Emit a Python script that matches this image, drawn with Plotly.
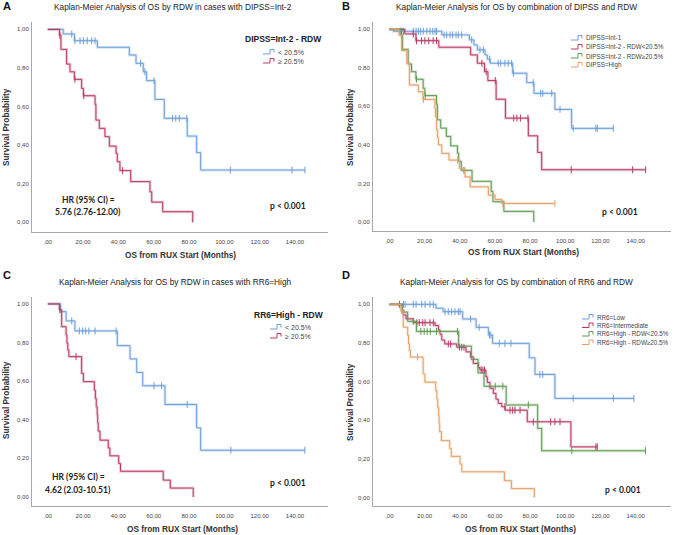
import plotly.graph_objects as go

# ---- survival data ----
# DIPSS=Int-2, RDW<20.5%  (panel A blue, panel B red)
int2_low_times = [8.8, 15.1, 28.1, 46.2, 50.0, 54.1, 56.0, 60.7, 66.0, 79.0, 84.3, 86.6]
int2_low_surv = [0.976, 0.941, 0.907, 0.867, 0.824, 0.780, 0.734, 0.637, 0.539, 0.447, 0.361, 0.271]
int2_low_cens = [13.6, 15.4, 18.3, 20.2, 22.4, 24.9, 26.8, 52.6, 55.0, 60.2, 70.7, 72.5, 74.5, 78.8,
                 103.4, 138.3, 145.7]

# DIPSS=Int-2, RDW>=20.5%  (panel A red, panel B green)
int2_high_times = [6.6, 7.5, 10.7, 12.6, 15.1, 19.2, 20.2, 26.8, 27.3, 29.2, 32.4, 34.9, 38.7, 39.4,
                   40.9, 47.0, 57.9, 58.9, 65.1, 82.1]
int2_high_surv = [0.970, 0.896, 0.820, 0.780, 0.741, 0.694, 0.656, 0.611, 0.530, 0.487, 0.444, 0.395,
                  0.357, 0.314, 0.268, 0.211, 0.158, 0.105, 0.055, 0.0]
int2_high_cens = [6.9, 15.4, 20.4, 42.4]

# DIPSS=Int-1 (panel B blue)
int1_times = [2.3, 29.8, 45.5, 48.1, 50.0, 54.4, 55.7, 57.3, 70.1, 78.1, 82.2, 94.1, 103.6]
int1_surv = [0.99, 0.971, 0.945, 0.919, 0.893, 0.867, 0.845, 0.824, 0.772, 0.723, 0.668, 0.584, 0.486]
int1_cens = [6.1, 7.0, 8.0, 13.6, 15.2, 16.5, 17.8, 19.3, 21.3, 23.1, 24.7, 26.0, 26.9, 31.1, 32.6,
             34.5, 36.0, 37.9, 39.2, 41.1, 46.8, 51.5, 53.4, 57.0, 61.9, 63.3, 65.7, 67.6, 69.5,
             70.5, 81.8, 86.0, 87.2, 92.3, 97.0, 104.5, 117.4, 118.2, 127.3]

# DIPSS=High (panel B orange)
high_times = [5.5, 7.0, 9.9, 11.4, 16.5, 19.1, 25.9, 26.3, 26.9, 27.4, 27.9, 29.8, 33.9, 39.8, 43.0,
              45.9, 56.3, 60.1, 63.9]
high_surv = [0.97, 0.889, 0.824, 0.711, 0.676, 0.636, 0.59, 0.545, 0.477, 0.44, 0.40, 0.356, 0.321,
             0.278, 0.234, 0.182, 0.139, 0.117, 0.096]
high_cens = [19.4, 38.9, 64.5, 94.1]

# RR6=High, RDW<20.5%  (panel C blue, panel D green)
rr6h_low_times = [7.3, 10.4, 15.4, 39.4, 46.6, 50.4, 53.8, 66.4, 84.3, 86.6]
rr6h_low_surv = [0.96, 0.912, 0.86, 0.784, 0.715, 0.645, 0.576, 0.479, 0.358, 0.242]
rr6h_low_cens = [13.6, 17.9, 19.8, 21.5, 23.3, 26.8, 38.7, 60.2, 64.5, 79.0, 103.7, 145.6]

# RR6=High, RDW>=20.5%  (panel C red, panel D orange)
rr6h_high_times = [6.6, 7.9, 10.4, 10.9, 11.4, 12.0, 19.2, 20.2, 26.4, 27.0, 27.5, 28.0, 28.3, 28.6,
                   29.6, 34.3, 35.2, 40.2, 41.2, 65.4, 69.4, 82.4]
rr6h_high_surv = [0.969, 0.882, 0.839, 0.796, 0.761, 0.727, 0.64, 0.597, 0.553, 0.51, 0.467, 0.425,
                  0.383, 0.341, 0.294, 0.254, 0.213, 0.173, 0.133, 0.087, 0.046, 0.0]
rr6h_high_cens = [6.9, 16.0]

# RR6=Low (panel D blue)
low_times = [26.5, 30.5, 41.7, 49.3, 56.3, 58.7, 79.5, 82.8, 94.1]
low_surv = [0.98, 0.962, 0.924, 0.881, 0.841, 0.798, 0.723, 0.637, 0.513]
low_cens = [8.0, 8.9, 13.6, 15.2, 18.4, 20.3, 23.1, 25.0, 31.6, 33.5, 35.4, 37.3, 39.2, 40.2, 46.2,
            51.0, 56.9, 57.7, 62.5, 65.7, 69.1, 85.6, 87.2, 104.5, 127.3, 139.0]

# RR6=Intermediate (panel D red)
inter_times = [7.0, 8.0, 9.5, 13.6, 26.0, 27.9, 28.8, 29.8, 31.5, 38.3, 43.6, 46.2, 47.7, 50.6, 51.5,
               54.9, 55.7, 57.2, 59.1, 60.6, 61.9, 63.9, 65.8, 78.4, 103.2]
inter_surv = [0.97, 0.945, 0.925, 0.905, 0.89, 0.868, 0.845, 0.815, 0.795, 0.778, 0.754, 0.728, 0.694,
              0.672, 0.66, 0.625, 0.596, 0.565, 0.539, 0.509, 0.487, 0.47, 0.452, 0.392, 0.262]
inter_cens = [5.7, 15.6, 17.0, 19.0, 20.3, 23.1, 25.0, 33.5, 34.8, 39.8, 41.1, 42.4, 52.2, 53.2, 54.1,
              65.7, 68.6, 70.1, 71.4, 74.3, 81.8, 91.7, 94.1, 97.0, 117.4, 118.2]

x_ticks = [0, 20, 40, 60, 80, 100, 120, 140]
x_tick_text = [',00', '20,00', '40,00', '60,00', '80,00', '100,00', '120,00', '140,00']
y_ticks = [0, 0.2, 0.4, 0.6, 0.8, 1.0]
y_tick_text = ['0,00', '0,20', '0,40', '0,60', '0,80', '1,00']

BLUE = '#6c9fd8'
RED = '#b83a62'
GREEN = '#5f9a52'
ORANGE = '#e2a168'

W, H = 676, 535
FONT = 'Liberation Sans'


def px_x(x):
    return x / W


def px_y(y):
    return 1 - y / H


def surv_at(times, surv, t):
    s = 1.0
    for ti, si in zip(times, surv):
        if ti <= t:
            s = si
    return s


fig = go.Figure()


def add_curve(times, surv, cens, color, axis_n):
    xa = 'x' if axis_n == 1 else 'x%d' % axis_n
    ya = 'y' if axis_n == 1 else 'y%d' % axis_n
    end = max(times + cens)
    xs = [0] + times + [end]
    ys = [1.0] + surv + [surv[-1]]
    # soft halo like the exported SPSS lines
    fig.add_trace(go.Scatter(x=xs, y=ys, mode='lines', xaxis=xa, yaxis=ya, opacity=0.25,
                             line=dict(color=color, width=2.8, shape='hv'),
                             hoverinfo='skip', showlegend=False))
    fig.add_trace(go.Scatter(x=xs, y=ys, mode='lines', xaxis=xa, yaxis=ya,
                             line=dict(color=color, width=1.0, shape='hv'),
                             hoverinfo='skip', showlegend=False))
    fig.add_trace(go.Scatter(x=cens, y=[surv_at(times, surv, c) for c in cens], mode='markers',
                             xaxis=xa, yaxis=ya,
                             marker=dict(symbol='line-ns-open', size=5, color=color,
                                         line=dict(color=color, width=1)),
                             hoverinfo='skip', showlegend=False))


# panel A
add_curve(int2_low_times, int2_low_surv, int2_low_cens, BLUE, 1)
add_curve(int2_high_times, int2_high_surv, int2_high_cens, RED, 1)
# panel B
add_curve(int1_times, int1_surv, int1_cens, BLUE, 2)
add_curve(int2_low_times, int2_low_surv, int2_low_cens, RED, 2)
add_curve(int2_high_times, int2_high_surv, int2_high_cens, GREEN, 2)
add_curve(high_times, high_surv, high_cens, ORANGE, 2)
# panel C
add_curve(rr6h_low_times, rr6h_low_surv, rr6h_low_cens, BLUE, 3)
add_curve(rr6h_high_times, rr6h_high_surv, rr6h_high_cens, RED, 3)
# panel D
add_curve(low_times, low_surv, low_cens, BLUE, 4)
add_curve(inter_times, inter_surv, inter_cens, RED, 4)
add_curve(rr6h_low_times, rr6h_low_surv, rr6h_low_cens, GREEN, 4)
add_curve(rr6h_high_times, rr6h_high_surv, rr6h_high_cens, ORANGE, 4)

# pixel boxes of each plot area and axis ranges
panels = [
    dict(x0=32, x1=328, y0=22, y1=232, xr=[-8.9, 158.7], yr=[-0.050, 1.038]),
    dict(x0=373, x1=671, y0=22, y1=231, xr=[-9.3, 160.1], yr=[-0.047, 1.038]),
    dict(x0=32, x1=328, y0=297, y1=506, xr=[-8.9, 158.7], yr=[-0.047, 1.036]),
    dict(x0=373, x1=671, y0=297, y1=506, xr=[-9.3, 160.1], yr=[-0.044, 1.038]),
]

axis_style = dict(showline=True, linecolor='#a8a8a8', linewidth=1, showgrid=False, zeroline=False,
                  ticks='', tickfont=dict(family=FONT, size=6, color='#444'), fixedrange=True)

for i, p in enumerate(panels):
    n = '' if i == 0 else str(i + 1)
    fig.layout['xaxis' + n] = dict(axis_style, domain=[px_x(p['x0']), px_x(p['x1'])],
                                   range=p['xr'], tickvals=x_ticks, ticktext=x_tick_text,
                                   anchor='y' + n, ticklabelstandoff=4)
    fig.layout['yaxis' + n] = dict(axis_style, domain=[px_y(p['y1']), px_y(p['y0'])],
                                   range=p['yr'], tickvals=y_ticks, ticktext=y_tick_text,
                                   anchor='x' + n, ticklabelstandoff=1)

annotations = []


def text(x, y, s, size=8, bold=False, color='#333', anchor='center', angle=0, family=FONT):
    if bold:
        s = '<b>' + s + '</b>'
    annotations.append(dict(x=px_x(x), y=px_y(y), xref='paper', yref='paper', text=s,
                            showarrow=False, xanchor=anchor, yanchor='middle', textangle=angle,
                            font=dict(family=family, size=size, color=color)))


# panel letters and titles
text(1, 6, 'A', size=11, bold=True, color='#111', anchor='left')
text(340, 6, 'B', size=11, bold=True, color='#111', anchor='left')
text(1, 275, 'C', size=11, bold=True, color='#111', anchor='left')
text(340, 275, 'D', size=11, bold=True, color='#111', anchor='left')
text(173, 6.5, 'Kaplan-Meier Analysis of OS by RDW in cases with DIPSS=Int-2', size=8.3, color='#222')
text(516, 6.5, 'Kaplan-Meier Analysis for OS by combination of DIPSS and RDW', size=8.3, color='#222')
text(175, 282, 'Kaplan-Meier Analysis for OS by RDW in cases with RR6=High', size=8.3, color='#222')
text(516, 282, 'Kaplan-Meier Analysis for OS by combination of RR6 and RDW', size=8.3, color='#222')

# axis titles
for (xx, yy) in [(6, 127), (350, 127), (6, 400), (350, 402)]:
    text(xx, yy, 'Survival Probability', size=8.3, bold=True, color='#333', angle=-90)
for (xx, yy) in [(180, 255), (523, 252), (182, 529), (520, 529)]:
    text(xx, yy, 'OS from RUX Start (Months)', size=8.3, bold=True, color='#333')

# HR / p-value notes
text(88, 200, 'HR (95% CI) =', size=8.5, bold=True, color='#222', family='Lato')
text(88, 212, '5.76 (2.76-12.00)', size=8.5, bold=True, color='#222', family='Lato')
text(288, 206, 'p &lt; 0.001', size=8.5, bold=True, color='#222', family='Lato')
text(620, 212, 'p &lt; 0.001', size=8.5, bold=True, color='#222', family='Lato')
text(78, 477, 'HR (95% CI) =', size=8.5, bold=True, color='#222', family='Lato')
text(78, 490, '4.62 (2.03-10.51)', size=8.5, bold=True, color='#222', family='Lato')
text(288, 483, 'p &lt; 0.001', size=8.5, bold=True, color='#222', family='Lato')
text(623, 490, 'p &lt; 0.001', size=8.5, bold=True, color='#222', family='Lato')

# hand drawn SPSS style legends
shapes = []


def legend_item(x0, y, label, color, size=6.3):
    pts = [(x0, y + 2), (x0 + 7, y + 2), (x0 + 7, y - 2.5), (x0 + 11, y - 2.5), (x0 + 11, y + 0.5)]
    path = 'M ' + ' L '.join('%.5f %.5f' % (px_x(a), px_y(b)) for a, b in pts)
    shapes.append(dict(type='path', path=path, xref='paper', yref='paper',
                       line=dict(color=color, width=1)))
    text(x0 + 13, y, label, size=size, color='#444', anchor='left')


text(283, 39, 'DIPSS=Int-2 - RDW', size=8.5, bold=True, color='#222')
legend_item(263, 52, '&lt; 20.5%', BLUE, 7)
legend_item(263, 61, '≥ 20.5%', RED, 7)

legend_item(571, 38, 'DIPSS=Int-1', BLUE)
legend_item(571, 47, 'DIPSS=Int-2 - RDW&lt;20.5%', RED)
legend_item(571, 56, 'DIPSS=Int-2 - RDW≥20.5%', GREEN)
legend_item(571, 65, 'DIPSS=High', ORANGE)

text(289, 315, 'RR6=High - RDW', size=8.5, bold=True, color='#222')
legend_item(270, 327, '&lt; 20.5%', BLUE, 7)
legend_item(270, 336, '≥ 20.5%', RED, 7)

legend_item(582, 317, 'RR6=Low', BLUE)
legend_item(582, 325.5, 'RR6=Intermediate', RED)
legend_item(582, 334, 'RR6=High - RDW&lt;20.5%', GREEN)
legend_item(582, 342.5, 'RR6=High - RDW≥20.5%', ORANGE)

fig.update_layout(width=W, height=H, margin=dict(l=0, r=0, t=0, b=0),
                  paper_bgcolor='white', plot_bgcolor='white',
                  annotations=annotations, shapes=shapes, showlegend=False)

# the page body has a default 8px margin; drop it so the figure fills the window
fig.write_html('out.html', config={'displayModeBar': False},
               post_script="document.body.style.margin='0px';")
